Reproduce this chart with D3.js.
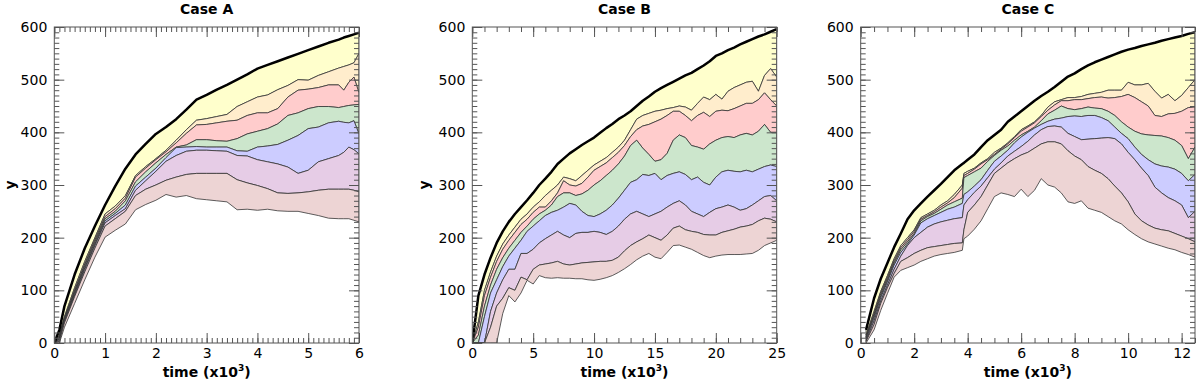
<!DOCTYPE html>
<html>
<head>
<meta charset="utf-8">
<script src="https://cdn.jsdelivr.net/npm/d3@7"></script>
<style>
body { margin: 0; background: #fff; }
svg { display: block; font-family: "DejaVu Sans", sans-serif; }
.band { stroke: #333; stroke-width: 0.8; stroke-linejoin: round; }
.top-line { fill: none; stroke: #000; stroke-width: 2.5; stroke-linejoin: round; }
.frame { fill: none; stroke: #555; stroke-width: 1; }
.title, .axis-label { font-size: 14px; font-weight: bold; }
</style>
</head>
<body>
<script>
// ---- Case A ----
var timeA = [0, 0.1, 0.2, 0.4, 0.6, 0.8, 1.0, 1.2, 1.4, 1.6, 1.8, 2.0, 2.2, 2.4, 2.6, 2.8, 3.0, 3.2, 3.4, 3.6, 3.8, 4.0, 4.2, 4.4, 4.6, 4.8, 5.0, 5.2, 5.4, 5.6, 5.7, 5.8, 5.9, 6.0];
var totalA = [0, 25, 70, 130, 180, 222, 262, 298, 331, 358, 378, 397, 410, 425, 443, 462, 471, 481, 490, 500, 510, 521, 528, 535, 542, 549, 556, 563, 570, 576, 580, 583, 586, 589];
var a1 = [0, 15, 50, 105, 155, 200, 245, 260, 280, 318, 335, 350, 366, 385, 405, 423, 426, 430, 434, 449, 458, 467, 471, 481, 489, 500, 499, 508, 515, 522, 525, 528, 532, 550];
var a2 = [0, 12, 47, 100, 150, 196, 240, 255, 275, 315, 332, 348, 363, 380, 398, 414, 415, 418, 421, 423, 432, 437, 437, 445, 467, 480, 482, 485, 490, 490, 480, 495, 505, 475];
var a3 = [0, 10, 45, 97, 147, 192, 236, 250, 270, 306, 325, 342, 358, 372, 376, 386, 386, 384, 383, 388, 397, 402, 407, 416, 432, 437, 445, 449, 449, 447, 449, 451, 452, 453];
var a4 = [0, 8, 43, 94, 143, 188, 232, 246, 262, 298, 315, 332, 352, 371, 372, 373, 372, 372, 372, 365, 364, 372, 374, 377, 385, 394, 407, 410, 418, 421, 419, 418, 422, 397];
var a5 = [0, 6, 41, 91, 140, 185, 228, 242, 255, 290, 308, 326, 345, 356, 364, 366, 366, 365, 364, 356, 355, 348, 344, 340, 334, 322, 328, 344, 350, 356, 362, 372, 367, 359];
var a6 = [0, 3, 38, 88, 135, 180, 222, 236, 250, 280, 292, 300, 309, 315, 320, 322, 322, 322, 322, 310, 304, 299, 293, 285, 284, 285, 287, 290, 292, 292, 292, 292, 290, 287];
var a7 = [0, 0, 30, 75, 120, 163, 201, 214, 226, 253, 263, 271, 282, 277, 280, 274, 272, 270, 268, 253, 254, 252, 254, 251, 250, 250, 246, 242, 237, 236, 236, 236, 233, 230];

// ---- Case B ----
var timeB = [0, 0.5, 1, 1.5, 2, 2.5, 3, 3.5, 4, 4.5, 5, 5.5, 6, 6.5, 7, 7.5, 8, 8.5, 9, 9.5, 10, 10.5, 11, 11.5, 12, 12.5, 13, 13.5, 14, 14.5, 15, 15.5, 16, 16.5, 17, 17.5, 18, 18.5, 19, 19.5, 20, 20.5, 21, 21.5, 22, 22.5, 23, 23.5, 24, 24.5, 25];
var totalB = [0, 90, 130, 162, 190, 212, 230, 245, 258, 271, 285, 300, 312, 325, 340, 350, 360, 368, 376, 383, 390, 399, 408, 416, 425, 432, 440, 450, 460, 468, 477, 484, 490, 496, 502, 508, 513, 520, 527, 535, 545, 550, 556, 561, 567, 572, 577, 582, 586, 591, 596];
var b1 = [0, 40, 100, 135, 165, 188, 205, 220, 235, 245, 258, 268, 280, 290, 300, 315, 312, 308, 318, 328, 338, 345, 352, 362, 372, 385, 405, 425, 432, 436, 440, 442, 445, 447, 450, 448, 442, 455, 467, 462, 472, 463, 478, 485, 490, 495, 497, 478, 508, 521, 505];
var b2 = [0, 30, 90, 125, 155, 178, 195, 210, 225, 235, 248, 258, 258, 270, 285, 308, 300, 298, 303, 315, 328, 335, 342, 352, 362, 375, 392, 405, 412, 415, 420, 425, 432, 440, 440, 432, 422, 432, 438, 430, 440, 442, 441, 445, 450, 455, 455, 462, 475, 462, 450];
var b3 = [0, 15, 70, 110, 140, 162, 180, 195, 210, 222, 235, 245, 252, 262, 278, 285, 285, 280, 283, 290, 300, 308, 318, 328, 340, 355, 375, 385, 370, 358, 345, 348, 360, 385, 395, 390, 375, 372, 368, 378, 385, 390, 392, 390, 395, 398, 395, 402, 415, 400, 400];
var b4 = [0, 0, 50, 95, 120, 145, 165, 180, 195, 212, 222, 232, 242, 248, 252, 258, 265, 262, 250, 242, 240, 245, 252, 262, 275, 290, 305, 310, 320, 318, 322, 310, 318, 322, 325, 320, 310, 315, 305, 300, 315, 325, 328, 326, 325, 328, 325, 330, 335, 338, 335];
var b5 = [0, 0, 0, 60, 95, 120, 140, 140, 170, 170, 178, 190, 198, 205, 212, 205, 200, 208, 210, 210, 212, 210, 206, 212, 222, 235, 245, 250, 245, 240, 245, 250, 258, 265, 270, 262, 250, 245, 240, 248, 255, 258, 262, 258, 252, 255, 262, 270, 278, 280, 270];
var b6 = [0, 0, 0, 30, 70, 85, 105, 100, 125, 120, 140, 148, 150, 152, 155, 150, 148, 150, 152, 153, 154, 155, 155, 157, 163, 175, 185, 192, 198, 205, 200, 195, 205, 218, 222, 215, 212, 210, 206, 205, 205, 210, 213, 216, 220, 222, 225, 232, 237, 235, 230];
var b7 = [0, 0, 0, 0, 0, 56, 90, 78, 95, 119, 112, 128, 124, 123, 124, 123, 123, 122, 122, 120, 119, 121, 124, 128, 134, 141, 149, 158, 165, 170, 163, 160, 172, 185, 186, 182, 178, 172, 166, 162, 165, 167, 168, 168, 168, 169, 170, 176, 185, 190, 195];

// ---- Case C ----
var timeC = [0.2, 0.5, 0.75, 1, 1.25, 1.5, 1.75, 2, 2.25, 2.5, 2.75, 3, 3.25, 3.5, 3.8, 3.86, 4, 4.25, 4.5, 4.75, 5, 5.25, 5.5, 5.75, 6, 6.25, 6.5, 6.75, 7, 7.25, 7.5, 7.75, 8, 8.25, 8.5, 8.75, 9, 9.25, 9.5, 9.75, 10, 10.25, 10.5, 10.75, 11, 11.25, 11.5, 11.75, 12, 12.25, 12.5];
var totalC = [25, 85, 122, 152, 182, 208, 235, 252, 265, 278, 290, 302, 315, 328, 340, 342, 348, 358, 372, 385, 395, 405, 420, 430, 440, 450, 460, 469, 477, 486, 496, 506, 512, 520, 527, 533, 538, 543, 548, 553, 557, 560, 564, 567, 570, 574, 577, 580, 583, 587, 590];
var c1 = [15, 60, 98, 128, 160, 185, 200, 215, 238, 245, 252, 262, 270, 282, 300, 322, 326, 332, 342, 350, 362, 370, 380, 392, 405, 412, 420, 432, 448, 458, 462, 466, 466, 468, 472, 474, 476, 480, 480, 480, 495, 490, 490, 493, 478, 465, 472, 460, 470, 485, 500];
var c2 = [12, 55, 94, 124, 156, 181, 196, 212, 235, 242, 249, 258, 266, 276, 294, 318, 322, 330, 340, 348, 358, 368, 378, 390, 402, 410, 418, 430, 442, 452, 460, 460, 462, 462, 464, 466, 467, 465, 466, 468, 472, 466, 458, 450, 432, 430, 435, 436, 440, 447, 448];
var c3 = [10, 52, 90, 120, 152, 177, 192, 208, 232, 240, 246, 254, 262, 268, 275, 314, 318, 325, 332, 345, 356, 366, 374, 385, 395, 402, 410, 422, 435, 442, 450, 445, 443, 445, 448, 446, 445, 440, 432, 420, 410, 402, 397, 395, 394, 393, 390, 385, 375, 350, 372];
var c4 = [8, 48, 86, 116, 148, 172, 188, 205, 228, 236, 242, 248, 254, 258, 265, 282, 287, 298, 310, 328, 345, 355, 366, 380, 391, 400, 408, 415, 421, 425, 427, 430, 431, 430, 432, 432, 428, 422, 410, 398, 388, 372, 358, 348, 340, 336, 334, 330, 322, 308, 320];
var c5 = [5, 42, 80, 110, 140, 165, 185, 200, 210, 220, 226, 230, 233, 236, 238, 262, 272, 286, 298, 314, 330, 342, 355, 364, 373, 383, 395, 405, 411, 412, 410, 398, 392, 386, 387, 388, 389, 390, 388, 378, 362, 348, 332, 318, 296, 285, 276, 270, 262, 238, 250];
var c6 = [3, 35, 75, 105, 132, 155, 162, 170, 176, 181, 183, 185, 187, 189, 190, 215, 248, 262, 278, 300, 322, 332, 342, 350, 357, 362, 370, 378, 382, 382, 378, 365, 355, 348, 335, 328, 322, 312, 298, 285, 268, 245, 232, 224, 218, 215, 213, 208, 203, 198, 192];
var c7 = [0, 25, 62, 94, 125, 138, 143, 148, 155, 160, 165, 168, 170, 172, 176, 198, 203, 216, 232, 255, 278, 285, 282, 278, 292, 278, 290, 312, 300, 296, 285, 268, 265, 270, 256, 252, 248, 240, 232, 226, 215, 206, 198, 192, 188, 184, 180, 177, 172, 168, 163];

// tick labels
var yTicks = [0, 100, 200, 300, 400, 500, 600];
var xTicksA = [0, 1, 2, 3, 4, 5, 6];
var xTicksB = [0, 5, 10, 15, 20, 25];
var xTicksC = [0, 2, 4, 6, 8, 10, 12];

// band colours, top band first
var bandColors = ["#ffffcc", "#ffedcc", "#ffcccc", "#cce6cc", "#ccccff", "#e6cce6", "#edd4d4"];

var width = 1200, height = 383;
var plotTop = 27, plotBottom = 343;

var panels = [
  {title: "Case A", time: timeA, lines: [totalA, a1, a2, a3, a4, a5, a6, a7], left: 54.3, right: 359, xMax: 6, minor: 0.1, xTicks: xTicksA, ylab: 10},
  {title: "Case B", time: timeB, lines: [totalB, b1, b2, b3, b4, b5, b6, b7], left: 472.3, right: 776.7, xMax: 25, minor: 1, xTicks: xTicksB, ylab: 423.5},
  {title: "Case C", time: timeC, lines: [totalC, c1, c2, c3, c4, c5, c6, c7], left: 860.7, right: 1195, xMax: 12.5, minor: 0.5, xTicks: xTicksC, ylab: null}
];

var svg = d3.select("body").append("svg")
    .attr("width", width)
    .attr("height", height);

var y = d3.scaleLinear().domain([0, 600]).range([plotBottom, plotTop]);
var yMinor = d3.range(0, 601, 10);

panels.forEach(function(p, pi) {
  var x = d3.scaleLinear().domain([0, p.xMax]).range([p.left, p.right]);
  var xMinor = d3.range(0, p.xMax + 1e-9, p.minor).map(function(v) { return +v.toFixed(3); });

  var g = svg.append("g");

  var clipId = "clip" + pi;
  svg.append("clipPath").attr("id", clipId)
    .append("rect")
      .attr("x", p.left).attr("y", plotTop)
      .attr("width", p.right - p.left).attr("height", plotBottom - plotTop);

  var plot = g.append("g").attr("clip-path", "url(#" + clipId + ")");

  // bands between consecutive boundaries
  for (var i = 0; i < 7; i++) {
    var upper = p.lines[i], lower = p.lines[i + 1];
    var area = d3.area()
        .x(function(d, j) { return x(p.time[j]); })
        .y0(function(d, j) { return y(lower[j]); })
        .y1(function(d, j) { return y(upper[j]); });
    plot.append("path")
        .attr("class", "band")
        .attr("fill", bandColors[i])
        .attr("d", area(p.time));
  }

  var line = d3.line()
      .x(function(d, j) { return x(p.time[j]); })
      .y(function(d) { return y(d); });
  plot.append("path")
      .attr("class", "top-line")
      .attr("d", line(p.lines[0]));

  // axes: ticks pointing inward on all four sides
  function styleAxis(sel) {
    sel.select(".domain").remove();
    sel.selectAll("line").attr("stroke", "#555");
    sel.selectAll("text")
        .attr("font-family", "DejaVu Sans, sans-serif")
        .attr("font-size", 14)
        .attr("fill", "#000");
  }

  g.append("g").attr("transform", "translate(" + p.left + ",0)")
      .call(d3.axisLeft(y).tickValues(yMinor).tickSize(-5).tickFormat(""))
      .call(styleAxis);
  g.append("g").attr("transform", "translate(" + p.left + ",0)")
      .call(d3.axisLeft(y).tickValues(yTicks).tickSize(-10).tickPadding(7).tickFormat(d3.format("d")))
      .call(styleAxis);
  g.append("g").attr("transform", "translate(" + p.right + ",0)")
      .call(d3.axisRight(y).tickValues(yMinor).tickSize(-5).tickFormat(""))
      .call(styleAxis);
  g.append("g").attr("transform", "translate(" + p.right + ",0)")
      .call(d3.axisRight(y).tickValues(yTicks).tickSize(-10).tickFormat(""))
      .call(styleAxis);

  g.append("g").attr("transform", "translate(0," + plotBottom + ")")
      .call(d3.axisBottom(x).tickValues(xMinor).tickSize(-5).tickFormat(""))
      .call(styleAxis);
  g.append("g").attr("transform", "translate(0," + plotBottom + ")")
      .call(d3.axisBottom(x).tickValues(p.xTicks).tickSize(-10).tickPadding(5).tickFormat(d3.format("d")))
      .call(styleAxis);
  g.append("g").attr("transform", "translate(0," + plotTop + ")")
      .call(d3.axisTop(x).tickValues(xMinor).tickSize(-5).tickFormat(""))
      .call(styleAxis);
  g.append("g").attr("transform", "translate(0," + plotTop + ")")
      .call(d3.axisTop(x).tickValues(p.xTicks).tickSize(-10).tickFormat(""))
      .call(styleAxis);

  g.append("rect")
      .attr("class", "frame")
      .attr("x", p.left).attr("y", plotTop)
      .attr("width", p.right - p.left).attr("height", plotBottom - plotTop);

  var cx = (p.left + p.right) / 2;
  g.append("text")
      .attr("class", "title")
      .attr("x", cx).attr("y", 14)
      .attr("text-anchor", "middle")
      .text(p.title);

  var xl = g.append("text")
      .attr("class", "axis-label")
      .attr("x", cx).attr("y", 377)
      .attr("text-anchor", "middle");
  xl.append("tspan").text("time (x10");
  xl.append("tspan").attr("dy", -6).attr("font-size", 9).text("3");
  xl.append("tspan").attr("dy", 6).text(")");

  if (p.ylab !== null) {
    g.append("text")
        .attr("class", "axis-label")
        .attr("transform", "translate(" + (p.ylab + 5) + "," + ((plotTop + plotBottom) / 2) + ") rotate(-90)")
        .attr("text-anchor", "middle")
        .text("y");
  }
});
</script>
</body>
</html>
